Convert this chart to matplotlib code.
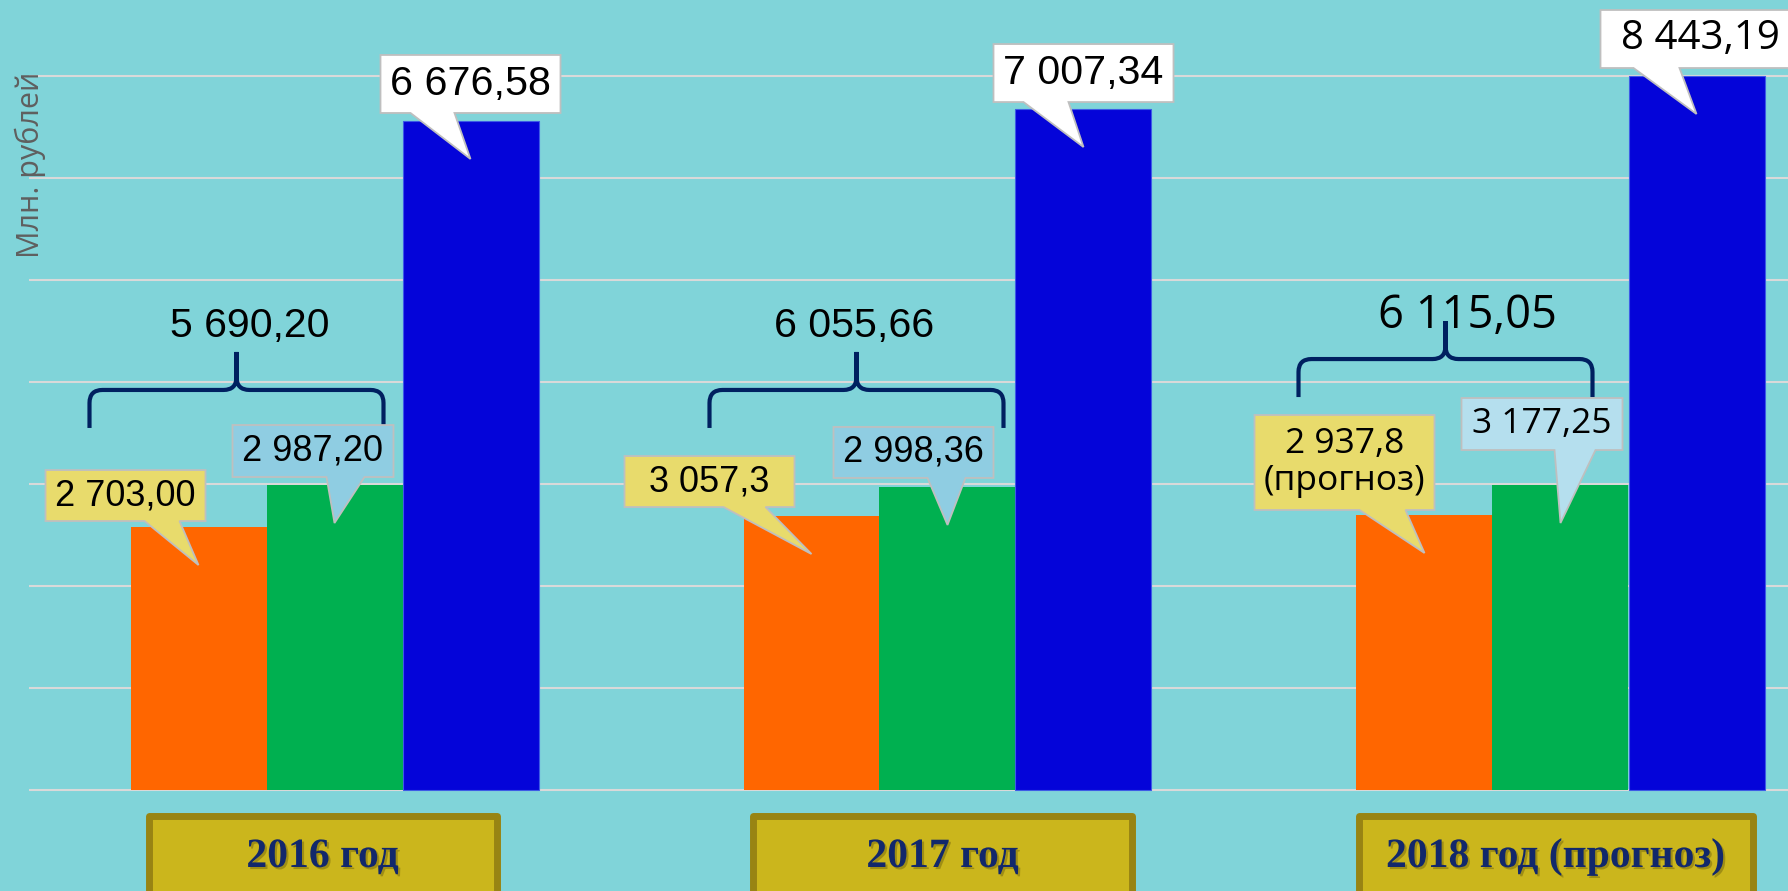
import numpy as np
import matplotlib
matplotlib.use("Agg")
import matplotlib.pyplot as plt
import matplotlib.patheffects as pe
from matplotlib.patches import Polygon, PathPatch, Rectangle
from matplotlib.path import Path

# ================================================================
# ДАННЫЕ
# ================================================================

years = ["2016 год", "2017 год", "2018 год (прогноз)"]

# высоты столбцов так, как они нарисованы (одна линия сетки = 1000)
h_orange = [2578, 2686, 2696]
h_green  = [2990, 2971, 2990]
h_blue   = [6559, 6676, 7000]

# подписи данных
lbl_orange = ["2 703,00", "3 057,3", "2 937,8\n(прогноз)"]
lbl_green  = ["2 987,20", "2 998,36", "3 177,25"]
lbl_blue   = ["6 676,58", "7 007,34", "8 443,19"]
lbl_sum    = ["5 690,20", "6 055,66", "6 115,05"]

# ================================================================
# ОФОРМЛЕНИЕ
# ================================================================

BG      = "#80D4D9"
GRID    = "#D9D9D9"
ORANGE  = "#FF6600"
GREEN   = "#00B050"
BLUE    = "#0404D9"
YEL_LBL = "#E8DB6C"
BLU_LBL = ["#8FCDE2", "#8FCDE2", "#B5DFEE"]
EDGE    = "#BFBFBF"
BRACE   = "#002060"
CAT_FC  = "#CBB61C"
CAT_EC  = "#988413"
CAT_TXT = "#12286B"

W_PX, H_PX = 1788, 891
GROUP_PX = 613.0     # шаг между группами, px
X0_PX    = 334.5     # центр первой группы, px
BASE_PX  = 790       # нулевая линия, px от верха
GRID_PX  = 102       # px на 1000

def dx(px):
    return px / GROUP_PX

def dy(px):
    return px * 1000.0 / GRID_PX

# выноски: (лево от острия, ширина, зазор над столбцом, высота, основание л, основание п) в px
cal_orange = [(-153, 160, 6, 51, -54, -19), (-187, 170, 9, 51, -88, -46),
              (-170, 180, 5, 95, -65, -19)]
cal_green  = [(-102, 161, 8, 52, -8, 30), (-114, 160, 9, 51, -20, 18),
              (-99, 161, 35, 52, -6, 35)]
cal_blue   = [(-90, 180, 8, 58, -60, -16), (-90, 180, 7, 58, -60, -15),
              (-96, 200, 8, 58, -63, -17)]

fam_lbl   = ["Liberation Sans", "Liberation Sans", "Open Sans"]
size_lbl  = [26, 26, 25.5]
size_blue = [29.7, 29.6, 29]
size_sum  = [29.5, 29.6, 32.7]

brace_y     = [3922, 3922, 4225]
brace_shift = [-3, 4, -20]
sum_dx      = [13, -2, 22]
sum_gap     = [53, 53, 31]

cat_dx = [-12, -5, -5]
cat_w  = [355, 386, 401]

# ================================================================
# РИСУНОК
# ================================================================

fig = plt.figure(figsize=(W_PX / 100, H_PX / 100), dpi=100)
fig.patch.set_facecolor(BG)
ax = fig.add_axes([0, 0, 1, 1])
ax.set_xlim(-X0_PX / GROUP_PX, (W_PX - X0_PX) / GROUP_PX)
ax.set_ylim(-dy(H_PX - BASE_PX), dy(BASE_PX))
ax.axis("off")

# сетка
ax.hlines(np.arange(0, 7001, 1000), dx(29 - X0_PX), ax.get_xlim()[1],
          color=GRID, lw=1.5, zorder=0)

x  = np.arange(len(years))
bw = dx(136)
ax.bar(x - bw, h_orange, bw, color=ORANGE, zorder=2)
ax.bar(x,      h_green,  bw, color=GREEN,  zorder=2)
ax.bar(x + bw, h_blue,   bw, color=BLUE,   zorder=2,
       edgecolor="#3d5be6", lw=0.8)


def callout(xc, top, text, geo, fc, family, size):
    left, w, gap, h, bl, br = geo
    yb = top + dy(gap)
    yt = yb + dy(h)
    xl = xc + dx(left)
    xr = xl + dx(w)
    ty = top - dy(38)
    verts = [(xl, yb), (xc + dx(bl), yb), (xc, ty), (xc + dx(br), yb),
             (xr, yb), (xr, yt), (xl, yt)]
    ax.add_patch(Polygon(verts, closed=True, fc=fc, ec=EDGE, lw=1.3,
                         joinstyle="miter", zorder=5, clip_on=False))
    ax.text((xl + xr) / 2, (yb + yt) / 2, text, ha="center", va="center",
            family=[family, "DejaVu Sans"], fontsize=size, color="black",
            linespacing=1.15, zorder=6)


def brace(L, R, Y):
    C  = (L + R) / 2
    d  = dy(38)
    rx, ry = dx(13), dy(13)
    verts = [(L, Y - d), (L, Y - ry), (L, Y), (L + rx, Y), (C - rx, Y),
             (C, Y), (C, Y + ry), (C, Y + d),
             (C, Y + d), (C, Y + ry), (C, Y), (C + rx, Y), (R - rx, Y),
             (R, Y), (R, Y - ry), (R, Y - d)]
    codes = [Path.MOVETO, Path.LINETO, Path.CURVE3, Path.CURVE3, Path.LINETO,
             Path.CURVE3, Path.CURVE3, Path.LINETO,
             Path.MOVETO, Path.LINETO, Path.CURVE3, Path.CURVE3, Path.LINETO,
             Path.CURVE3, Path.CURVE3, Path.LINETO]
    ax.add_patch(PathPatch(Path(verts, codes), fc="none", ec=BRACE, lw=3.0,
                           capstyle="butt", joinstyle="round", zorder=4))
    return C


for i in range(len(years)):
    fam = fam_lbl[i]
    callout(x[i] - bw, h_orange[i], lbl_orange[i], cal_orange[i], YEL_LBL,
            fam, size_lbl[i])
    callout(x[i], h_green[i], lbl_green[i], cal_green[i], BLU_LBL[i],
            fam, size_lbl[i])
    callout(x[i] + bw, h_blue[i], lbl_blue[i], cal_blue[i], "white",
            fam, size_blue[i])

    # фигурная скобка и сумма
    L = x[i] - 1.5 * bw + dx(-38 + brace_shift[i])
    R = x[i] + 0.5 * bw + dx(-16 + brace_shift[i])
    C = brace(L, R, brace_y[i])
    ax.text(C + dx(sum_dx[i]), brace_y[i] + dy(sum_gap[i]), lbl_sum[i],
            ha="center", va="baseline", family=[fam, "DejaVu Sans"],
            fontsize=size_sum[i], color="black", zorder=6)

    # подпись года в рамке
    cx = x[i] + dx(cat_dx[i])
    ax.add_patch(Rectangle((cx - dx(cat_w[i] / 2 - 3.5), -dy(140)),
                           dx(cat_w[i] - 7), dy(140 - 25.5),
                           fc=CAT_FC, ec=CAT_EC, lw=5, joinstyle="round",
                           zorder=4, clip_on=True))
    ax.text(cx, -dy(77), years[i], ha="center", va="baseline",
            family=["Liberation Serif", "DejaVu Serif"], fontweight="bold",
            fontsize=30, color=CAT_TXT, zorder=6,
            path_effects=[pe.withSimplePatchShadow(offset=(1.5, -1.5),
                                                   shadow_rgbFace="#6b5e0c",
                                                   alpha=0.45)])

fig.text(30 / W_PX, 1 - 164.5 / H_PX, "Млн. рублей", rotation=90,
         ha="center", va="center", family=["Open Sans", "DejaVu Sans"],
         fontsize=22, color="#5F5F5F")

plt.savefig("out.png", dpi=100, facecolor=BG)
plt.close()
